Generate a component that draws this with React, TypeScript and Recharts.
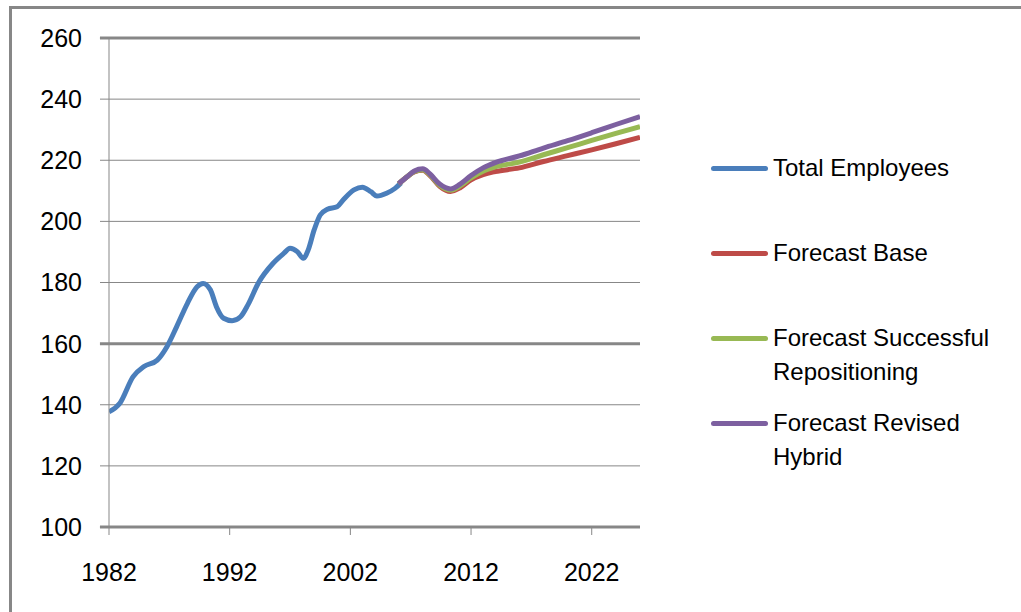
import {
  LineChart,
  Line,
  XAxis,
  YAxis,
  CartesianGrid,
  Legend,
  ReferenceLine,
} from "recharts";

const FONT = '"Liberation Sans", Arial, sans-serif';
const GRID = "#878787";

const actualYears = [
  1982.0, 1982.9, 1984.0, 1984.9, 1986.0, 1986.8, 1987.6, 1988.5, 1989.3,
  1989.8, 1990.4, 1990.9, 1991.5, 1992.2, 1992.9, 1993.5, 1994.4, 1995.6,
  1996.5, 1997.0, 1997.6, 1998.1, 1998.5, 1999.0, 1999.5, 2000.1, 2000.9,
  2001.4, 2002.3, 2003.0, 2003.7, 2004.2, 2005.0, 2005.7, 2006.2,
];
const actualValues = [
  137.7, 140.5, 149.2, 152.5, 154.6, 159.0, 165.5, 173.2, 178.6, 179.7,
  177.6, 172.1, 168.3, 167.5, 168.8, 172.6, 180.0, 186.3, 189.6, 191.2,
  190.1, 187.9, 190.6, 197.2, 202.1, 204.0, 204.8, 207.0, 210.3, 211.2,
  209.7, 208.3, 209.2, 210.8, 212.6,
];

// forecast scenarios
const forecastYears = [
  2006.0, 2006.7, 2007.3, 2008.0, 2008.6, 2009.4, 2010.3, 2011.1, 2012.0,
  2013.0, 2014.0, 2016.0, 2018.0, 2020.0, 2022.0, 2024.0, 2026.0,
];
const baseValues = [
  212.3, 214.6, 216.2, 216.7, 215.0, 211.5, 209.8, 211.0, 213.6, 215.3,
  216.3, 217.5, 219.6, 221.5, 223.4, 225.4, 227.5,
];
const repositioningValues = [
  212.3, 214.6, 216.3, 216.9, 215.2, 211.8, 210.2, 211.6, 214.2, 216.4,
  217.8, 219.4, 221.8, 224.1, 226.5, 228.8, 231.0,
];
const hybridValues = [
  212.3, 214.6, 216.5, 217.2, 215.5, 212.2, 210.6, 212.2, 215.0, 217.5,
  219.2, 221.4, 224.0, 226.4, 229.0, 231.7, 234.3,
];

const seriesNames = [
  "Total Employees",
  "Forecast Base",
  "Forecast Successful Repositioning",
  "Forecast Revised Hybrid",
];

const xTicks = [1982, 1992, 2002, 2012, 2022];
const yTicks = [100, 120, 140, 160, 180, 200, 220, 240, 260];

const toPoints = (years: number[], values: number[]) =>
  years.map((year, i) => ({ year, v: values[i] }));

const actualData = toPoints(actualYears, actualValues);
const baseData = toPoints(forecastYears, baseValues);
const repoData = toPoints(forecastYears, repositioningValues);
const hybridData = toPoints(forecastYears, hybridValues);

const renderLegend = (props: any) => {
  const items = [...(props.payload || [])].sort(
    (a: any, b: any) =>
      seriesNames.indexOf(a.value) - seriesNames.indexOf(b.value)
  );
  return (
    <div style={{ fontFamily: FONT, fontSize: 24, color: "#000" }}>
      {items.map((entry: any) => (
        <div
          key={entry.value}
          style={{ height: 85, display: "flex", alignItems: "flex-start" }}
        >
          <div
            style={{
              width: 57,
              height: 34,
              display: "flex",
              alignItems: "center",
              flexShrink: 0,
            }}
          >
            <div
              style={{
                width: 57,
                height: 5,
                background: entry.color,
                borderRadius: 2.5,
              }}
            />
          </div>
          <div style={{ marginLeft: 5, width: 240, lineHeight: "34px" }}>
            {entry.value}
          </div>
        </div>
      ))}
    </div>
  );
};

export default function App() {
  return (
    <div
      style={{
        position: "fixed",
        inset: 0,
        overflow: "hidden",
        background: "#fff",
      }}
    >
      <div
        style={{
          position: "absolute",
          left: 9,
          top: 6,
          width: 1100,
          height: 700,
          borderLeft: `3px solid ${GRID}`,
          borderTop: `3px solid ${GRID}`,
        }}
      />
      <div style={{ position: "absolute", left: 0, top: 0 }}>
        <LineChart
          width={1021}
          height={612}
          margin={{ top: 38, right: 381, bottom: 0, left: 0 }}
        >
          <CartesianGrid vertical={false} stroke={GRID} strokeWidth={1} />
          <XAxis
            dataKey="year"
            type="number"
            domain={[1982, 2026]}
            ticks={xTicks}
            allowDataOverflow
            height={85}
            axisLine={false}
            tickLine={{ stroke: GRID }}
            tickSize={8}
            tickMargin={28}
            tick={{ fill: "#000", fontSize: 25, fontFamily: FONT }}
          />
          <YAxis
            type="number"
            domain={[100, 260]}
            ticks={yTicks}
            width={109}
            axisLine={{ stroke: GRID }}
            tickLine={{ stroke: GRID }}
            tickSize={9}
            tickMargin={18}
            tick={{ fill: "#000", fontSize: 25, fontFamily: FONT }}
          />
          {[100, 160, 260].map((y) => (
            <ReferenceLine
              key={y}
              segment={[
                { x: 1981.25, y },
                { x: 2026, y },
              ]}
              ifOverflow="visible"
              stroke={GRID}
              strokeWidth={3}
            />
          ))}
          <Legend
            layout="vertical"
            align="center"
            verticalAlign="middle"
            content={renderLegend}
            wrapperStyle={{ left: 711, top: 151, width: 310, height: 360 }}
          />
          <Line
            data={actualData}
            dataKey="v"
            name={seriesNames[0]}
            type="monotone"
            stroke="#4A7EBB"
            strokeWidth={5}
            dot={false}
            isAnimationActive={false}
          />
          <Line
            data={baseData}
            dataKey="v"
            name={seriesNames[1]}
            type="monotone"
            stroke="#BE4B48"
            strokeWidth={5}
            dot={false}
            isAnimationActive={false}
          />
          <Line
            data={repoData}
            dataKey="v"
            name={seriesNames[2]}
            type="monotone"
            stroke="#98B954"
            strokeWidth={5}
            dot={false}
            isAnimationActive={false}
          />
          <Line
            data={hybridData}
            dataKey="v"
            name={seriesNames[3]}
            type="monotone"
            stroke="#7D60A0"
            strokeWidth={5}
            dot={false}
            isAnimationActive={false}
          />
        </LineChart>
      </div>
    </div>
  );
}
